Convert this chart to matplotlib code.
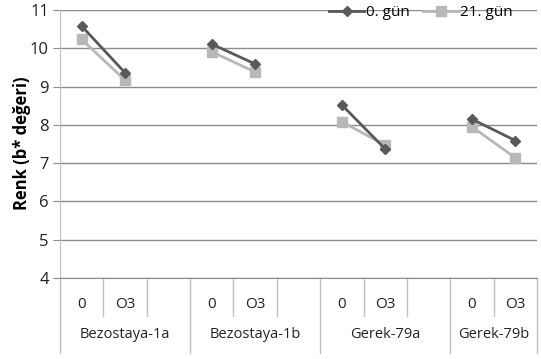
import numpy as np
import matplotlib
matplotlib.use("Agg")
import matplotlib.pyplot as plt
from matplotlib.lines import Line2D

groups = ["Bezostaya-1a", "Bezostaya-1b", "Gerek-79a", "Gerek-79b"]
subcats = ["0", "O3"]
series_names = ["0. gün", "21. gün"]
gun0 = [10.58, 9.36, 10.11, 9.59, 8.52, 7.37, 8.15, 7.59]
gun21 = [10.23, 9.17, 9.91, 9.38, 8.08, 7.47, 7.95, 7.14]
ylabel = "Renk (b* değeri)"
yticks = [4, 5, 6, 7, 8, 9, 10, 11]

plt.rcParams['font.family'] = ['Open Sans', 'DejaVu Sans']

W, H = 541, 359
fig = plt.figure(figsize=(W / 100, H / 100), dpi=100)
L, R, T, B = 60, 537, 10, 278
ax = fig.add_axes([L / W, 1 - B / H, (R - L) / W, (B - T) / H])

pos = 0
labels_x = []
group_bounds = []
for gi, g in enumerate(groups):
    start = pos
    for s in subcats:
        labels_x.append((pos + 0.5, s))
        pos += 1
    if gi < len(groups) - 1:
        pos += 1
    group_bounds.append((start, pos))
nslots = pos

def build(vals):
    xs, ys = [], []
    k = 0
    for st, en in group_bounds:
        for j in range(len(subcats)):
            xs.append(st + j + 0.5)
            ys.append(vals[k])
            k += 1
        xs.append(np.nan)
        ys.append(np.nan)
    return xs, ys

c0 = "#595959"
c21 = "#b8b8b8"
x0, y0 = build(gun0)
x1, y1 = build(gun21)
ax.plot(x1, y1, color=c21, lw=2.0, marker="s", ms=7, zorder=3)
ax.plot(x0, y0, color=c0, lw=2.0, marker="D", ms=5.5, zorder=4)

ax.set_xlim(0, nslots)
ax.set_ylim(4, 11)
ax.set_yticks(yticks)
ax.yaxis.grid(True, color="#8c8c8c", lw=1.0)
ax.set_axisbelow(True)
ax.set_xticks([])
for sp in ["top", "right"]:
    ax.spines[sp].set_visible(False)
ax.spines["left"].set_color("#bfbfbf")
ax.spines["bottom"].set_color("#8c8c8c")
ax.tick_params(axis="y", length=5, color="#8c8c8c", labelsize=12, pad=3, labelcolor="#222222")
ax.set_ylabel(ylabel, fontsize=12, fontweight="bold")
ax.yaxis.set_label_coords(-(60 - 31) / (R - L), (B - 143) / (B - T))

trans = ax.get_xaxis_transform()
px = 1.0 / (B - T)
sub_end = -(316 - B) * px
grp_end = -(353 - B) * px
sep_col = "#bfbfbf"
for st, en in group_bounds:
    for k in range(st + 1, en):
        ax.add_line(Line2D([k, k], [0, sub_end], transform=trans, color=sep_col, lw=1, clip_on=False))
    ax.add_line(Line2D([st, st], [0, grp_end], transform=trans, color=sep_col, lw=1, clip_on=False))
ax.add_line(Line2D([nslots, nslots], [0, grp_end], transform=trans, color=sep_col, lw=1, clip_on=False))
for xc, s in labels_x:
    ax.text(xc, -(304 - B) * px, s, transform=trans, ha="center", va="center", fontsize=11, color="#222222")
for g, (st, en) in zip(groups, group_bounds):
    ax.text((st + en) / 2, -(334 - B) * px, g, transform=trans, ha="center", va="center", fontsize=10.5, color="#222222")

handles = [Line2D([], [], color=c0, lw=2.0, marker="D", ms=5),
           Line2D([], [], color=c21, lw=2.0, marker="s", ms=6.5)]
fig.legend(handles, series_names, loc="center", bbox_to_anchor=(421 / W, 1 - 13 / H),
           ncol=2, frameon=False, fontsize=11, handlelength=2.3, handletextpad=0.1,
           columnspacing=0.9, borderpad=0)

fig.savefig("out.png", dpi=100)
